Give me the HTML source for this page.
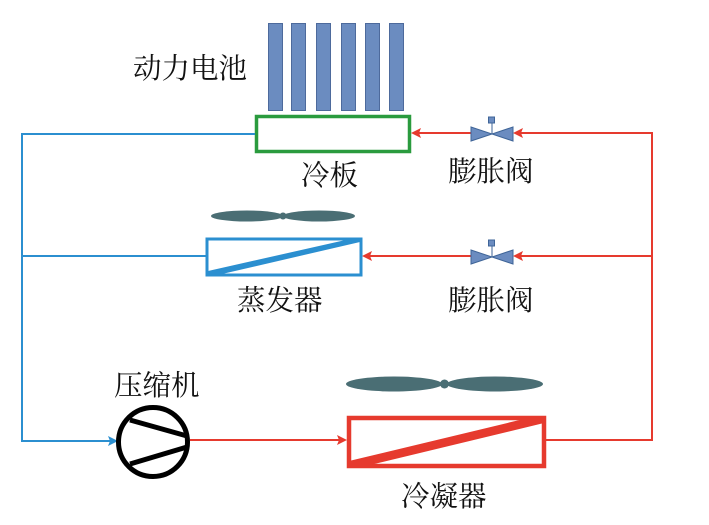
<!DOCTYPE html>
<html>
<head>
<meta charset="utf-8">
<style>
html,body{margin:0;padding:0;background:#fff;}
svg{display:block;}
text{font-family:"Liberation Serif","Noto Serif CJK SC","Noto Sans CJK SC",serif;font-size:28.5px;fill:#111;}
</style>
</head>
<body>
<svg width="709" height="525" viewBox="0 0 709 525" xmlns="http://www.w3.org/2000/svg">
  <!-- battery bars -->
  <g fill="#6b8cc0" stroke="#4d6a9c" stroke-width="1">
    <rect x="268.5" y="23.5" width="14" height="87"/>
    <rect x="291.5" y="23.5" width="14" height="87"/>
    <rect x="316.5" y="23.5" width="14" height="87"/>
    <rect x="341.5" y="23.5" width="14" height="87"/>
    <rect x="365.5" y="23.5" width="14" height="87"/>
    <rect x="389.5" y="23.5" width="14" height="87"/>
  </g>
  <text x="133" y="78">动力电池</text>

  <!-- cold plate -->
  <rect x="256.5" y="116.5" width="153" height="35" fill="#fff" stroke="#2a9b3e" stroke-width="3.5"/>
  <text x="301" y="185">冷板</text>

  <!-- blue lines -->
  <g stroke="#2b8fd0" stroke-width="2" fill="none">
    <polyline points="255,134 22,134 22,441 112,441"/>
    <line x1="22" y1="256" x2="206" y2="256"/>
  </g>
  <polygon points="118,441 108,436 110,441 108,446" fill="#2b8fd0"/>

  <!-- red lines -->
  <g stroke="#e63a2e" stroke-width="2" fill="none">
    <polyline points="546,440 652,440 652,133 520,133"/>
    <line x1="471" y1="133" x2="418" y2="133"/>
    <line x1="652" y1="256" x2="520" y2="256"/>
    <line x1="471" y1="256" x2="369" y2="256"/>
    <line x1="190" y1="440" x2="340" y2="440"/>
  </g>
  <g fill="#e63a2e">
    <polygon points="411,133 421,128 419,133 421,138"/>
    <polygon points="513,133 523,128 521,133 523,138"/>
    <polygon points="362,256 372,251 370,256 372,261"/>
    <polygon points="513,256 523,251 521,256 523,261"/>
    <polygon points="347,440 337,435 339,440 337,445"/>
  </g>

  <!-- valves -->
  <g fill="#6b8cc0" stroke="#3f6598" stroke-width="1">
    <polygon points="471,127 492,134 471,141"/>
    <polygon points="513,127 492,134 513,141"/>
    <line x1="492" y1="134" x2="492" y2="122"/>
    <rect x="488.5" y="117" width="6" height="6"/>
    <polygon points="471,250 492,257 471,264"/>
    <polygon points="513,250 492,257 513,264"/>
    <line x1="492" y1="257" x2="492" y2="245"/>
    <rect x="488.5" y="240" width="6" height="6"/>
  </g>
  <text x="448" y="181">膨胀阀</text>
  <text x="448" y="310">膨胀阀</text>

  <!-- evaporator fan -->
  <g fill="#4a6e74">
    <ellipse cx="247" cy="216" rx="36" ry="5.5"/>
    <ellipse cx="319" cy="216" rx="36" ry="5.5"/>
    <circle cx="283" cy="216" r="3.5"/>
  </g>
  <!-- evaporator -->
  <rect x="207" y="239" width="154" height="36" fill="#fff" stroke="#2b8fd0" stroke-width="3"/>
  <polygon points="208,274 222,274 360,242 360,239 350,239 208,271" fill="#2b8fd0"/>
  <text x="237" y="310">蒸发器</text>

  <!-- compressor -->
  <circle cx="153" cy="442" r="34.5" fill="#fff" stroke="#000" stroke-width="5"/>
  <g stroke="#000" stroke-width="5" stroke-linecap="butt">
    <line x1="130" y1="420" x2="187" y2="436"/>
    <line x1="130" y1="464" x2="187" y2="447"/>
  </g>
  <text x="114" y="395">压缩机</text>

  <!-- condenser fan -->
  <g fill="#4a6e74">
    <ellipse cx="394" cy="384" rx="48" ry="7.5"/>
    <ellipse cx="495" cy="384" rx="48" ry="7.5"/>
    <circle cx="444.5" cy="384" r="4.5"/>
  </g>
  <!-- condenser -->
  <rect x="349" y="418" width="195" height="48" fill="#fff" stroke="#e63a2e" stroke-width="4.5"/>
  <polygon points="349,466 366,466 544,423 544,418 528,418 349,461" fill="#e63a2e"/>
  <text x="401" y="506">冷凝器</text>
</svg>
</body>
</html>
